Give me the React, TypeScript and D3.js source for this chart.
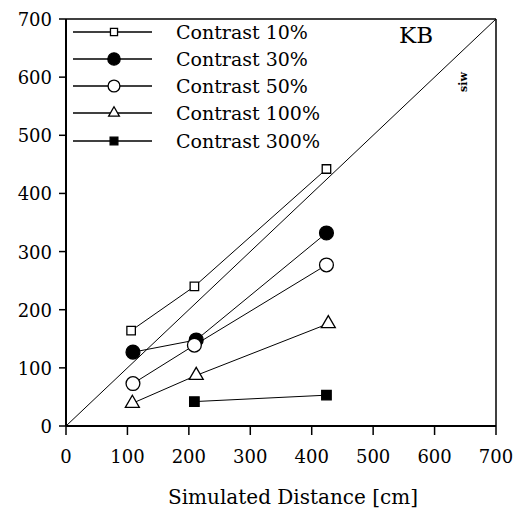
import React from "react";
import * as d3 from "d3";

const seriesNames = ["Contrast 10%", "Contrast 30%", "Contrast 50%", "Contrast 100%", "Contrast 300%"];
const xs10 = [106, 209, 424];
const ys10 = [164, 240, 442];
const xs30 = [109, 212, 424];
const ys30 = [127, 148, 332];
const xs50 = [109, 209, 424];
const ys50 = [73, 139, 277];
const xs100 = [108, 212, 427];
const ys100 = [39, 87, 176];
const xs300 = [209, 424];
const ys300 = [42, 53];
const xTicks = [0, 100, 200, 300, 400, 500, 600, 700];
const yTicks = [0, 100, 200, 300, 400, 500, 600, 700];

type Mark = { type: d3.SymbolType; filled: boolean; size: number; legendSize: number };
const marks: Mark[] = [
  { type: d3.symbolSquare, filled: false, size: 72, legendSize: 50 },
  { type: d3.symbolCircle, filled: true, size: 150, legendSize: 120 },
  { type: d3.symbolCircle, filled: false, size: 150, legendSize: 110 },
  { type: d3.symbolTriangle, filled: false, size: 85, legendSize: 50 },
  { type: d3.symbolSquare, filled: true, size: 90, legendSize: 60 },
];

const series = [
  { xs: xs10, ys: ys10 },
  { xs: xs30, ys: ys30 },
  { xs: xs50, ys: ys50 },
  { xs: xs100, ys: ys100 },
  { xs: xs300, ys: ys300 },
];

const FONT = "'DejaVu Serif', serif";

export default function App() {
  const x = d3.scaleLinear().domain([0, 700]).range([66, 496]);
  const y = d3.scaleLinear().domain([0, 700]).range([426, 19]);
  const line = d3.line<[number, number]>().x((d) => x(d[0])).y((d) => y(d[1]));
  const legendY = [32, 59, 86, 113, 141];

  return (
    <div style={{ position: "absolute", left: 0, top: 0 }}>
      <svg width={519} height={510} style={{ display: "block", background: "#fff" }}>
        <path d={line([[0, 0], [700, 700]]) || ""} stroke="#000" strokeWidth={1} fill="none" />
        <line x1={x(0)} x2={x(700)} y1={y(700)} y2={y(700)} stroke="#000" strokeWidth={1.5} />
        <line x1={x(700)} x2={x(700)} y1={y(0)} y2={y(700)} stroke="#000" strokeWidth={1.5} />
        <line x1={x(0)} x2={x(0)} y1={y(0)} y2={y(700)} stroke="#000" strokeWidth={2} />
        <line x1={x(0)} x2={x(700)} y1={y(0)} y2={y(0)} stroke="#000" strokeWidth={2} />
        {yTicks.map((t) => (
          <g key={"y" + t}>
            <line x1={x(0) - 7} x2={x(0)} y1={y(t)} y2={y(t)} stroke="#000" strokeWidth={1.5} />
            <text x={52} y={y(t) + 7} textAnchor="end" fontFamily={FONT} fontSize={18}>
              {t}
            </text>
          </g>
        ))}
        {xTicks.map((t) => (
          <g key={"x" + t}>
            <line x1={x(t)} x2={x(t)} y1={y(0)} y2={y(0) + 9} stroke="#000" strokeWidth={1.5} />
            <text x={x(t)} y={463} textAnchor="middle" fontFamily={FONT} fontSize={18}>
              {t}
            </text>
          </g>
        ))}
        <text x={293} y={504} textAnchor="middle" fontFamily={FONT} fontSize={20}>
          Simulated Distance [cm]
        </text>
        {series.map((s, i) => (
          <path
            key={"l" + i}
            d={line(s.xs.map((v, j) => [v, s.ys[j]] as [number, number])) || ""}
            stroke="#000"
            strokeWidth={1}
            fill="none"
          />
        ))}
        {series.map((s, i) =>
          s.xs.map((v, j) => (
            <path
              key={"m" + i + "_" + j}
              d={d3.symbol().type(marks[i].type).size(marks[i].size)() || ""}
              transform={`translate(${x(v)},${y(s.ys[j])})`}
              fill={marks[i].filled ? "#000" : "#fff"}
              stroke="#000"
              strokeWidth={1.3}
            />
          ))
        )}
        {seriesNames.map((name, i) => (
          <g key={"lg" + i}>
            <line x1={73} x2={152} y1={legendY[i]} y2={legendY[i]} stroke="#000" strokeWidth={1.5} />
            <path
              d={d3.symbol().type(marks[i].type).size(marks[i].legendSize)() || ""}
              transform={`translate(114,${legendY[i]})`}
              fill={marks[i].filled ? "#000" : "#fff"}
              stroke="#000"
              strokeWidth={1.3}
            />
            <text x={176} y={legendY[i] + 7} fontFamily={FONT} fontSize={19}>
              {name}
            </text>
          </g>
        ))}
        <text x={416} y={43} textAnchor="middle" fontFamily={FONT} fontSize={23}>
          KB
        </text>
        <text
          x={0}
          y={0}
          transform="translate(467,82) rotate(-90)"
          textAnchor="middle"
          fontFamily={FONT}
          fontSize={11}
          fontWeight="bold"
        >
          siw
        </text>
      </svg>
    </div>
  );
}
